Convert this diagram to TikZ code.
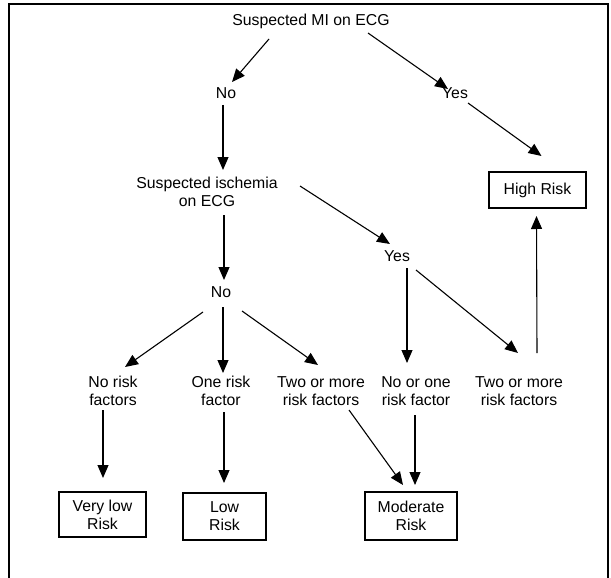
\documentclass[tikz,border=0pt]{standalone}
\usepackage{fontspec}
\setmainfont{Liberation Sans}
\usetikzlibrary{arrows.meta}
\tikzset{
  lbl/.style={inner sep=0pt, align=center, font=\fontsize{15.8}{18}\selectfont},
  riskbox/.style={lbl, draw, line width=1.3pt},
  arr/.style={line width=1.1pt, -{Triangle[length=13pt,width=11pt]}},
  frame/.style={line width=1.4pt}
}
\begin{document}
\begin{tikzpicture}[x=1pt,y=-1pt]
\useasboundingbox (0,0) rectangle (611,578);
\draw[frame] (9,578) -- (9,4) -- (608,4) -- (608,578);

\node[lbl] (mi) at (311,21) {Suspected MI on ECG};
\node[lbl] (no1) at (226,93) {No};
\node[lbl] (yes1) at (455,93) {Yes};
\node[lbl] (isch) at (207,192) {Suspected ischemia\\on ECG};
\node[riskbox, minimum width=97pt, minimum height=36pt] (high) at (537.5,190) {High Risk};
\node[lbl] (yes2) at (397,256) {Yes};
\node[lbl] (no2) at (221,292) {No};
\node[lbl] (f1) at (113,391) {No risk\\factors};
\node[lbl] (f2) at (221,391) {One risk\\factor};
\node[lbl] (f3) at (321,391) {Two or more\\risk factors};
\node[lbl] (f4) at (416,391) {No or one\\risk factor};
\node[lbl] (f5) at (519,391) {Two or more\\risk factors};
\node[riskbox, minimum width=87pt, minimum height=45pt] (vl) at (102.5,514.5) {Very low\\Risk};
\node[riskbox, minimum width=83pt, minimum height=47pt] (low) at (224.5,516.5) {Low\\Risk};
\node[riskbox, minimum width=92pt, minimum height=48pt] (mod) at (411,516) {Moderate\\Risk};

\draw[arr] ([shift={(-42,18)}]mi.center) -- ([shift={(6,-11)}]no1.center);
\draw[arr] ([shift={(57,12)}]mi.center) -- ([shift={(-7,-4)}]yes1.center);
\draw[arr] ([shift={(-3,12)}]no1.center) -- ([shift={(16,-22)}]isch.center);
\draw[arr] ([shift={(13,10)}]yes1.center) -- ([shift={(4,-34)}]high.center);
\draw[arr] ([shift={(93,-6)}]isch.center) -- ([shift={(-7,-12)}]yes2.center);
\draw[arr] ([shift={(17,23)}]isch.center) -- ([shift={(3,-12)}]no2.center);
\draw[arr] ([shift={(-18,20)}]no2.center) -- ([shift={(12,-24)}]f1.center);
\draw[arr] ([shift={(2,15)}]no2.center) -- ([shift={(2,-18)}]f2.center);
\draw[arr] ([shift={(21,19)}]no2.center) -- ([shift={(-3,-26)}]f3.center);
\draw[arr] ([shift={(10,12)}]yes2.center) -- ([shift={(-9,-28)}]f4.center);
\draw[arr] ([shift={(19,14)}]yes2.center) -- ([shift={(-1,-38)}]f5.center);
\draw[arr] ([shift={(18,-38)}]f5.center) -- ([shift={(-1,26)}]high.center);
\draw[arr] ([shift={(-10,19)}]f1.center) -- ([shift={(0.5,-36.5)}]vl.center);
\draw[arr] ([shift={(3,21)}]f2.center) -- ([shift={(-0.5,-33.5)}]low.center);
\draw[arr] ([shift={(28,19)}]f3.center) -- ([shift={(-8,-31)}]mod.center);
\draw[arr] ([shift={(-1,24)}]f4.center) -- ([shift={(4,-31)}]mod.center);
\end{tikzpicture}
\end{document}
